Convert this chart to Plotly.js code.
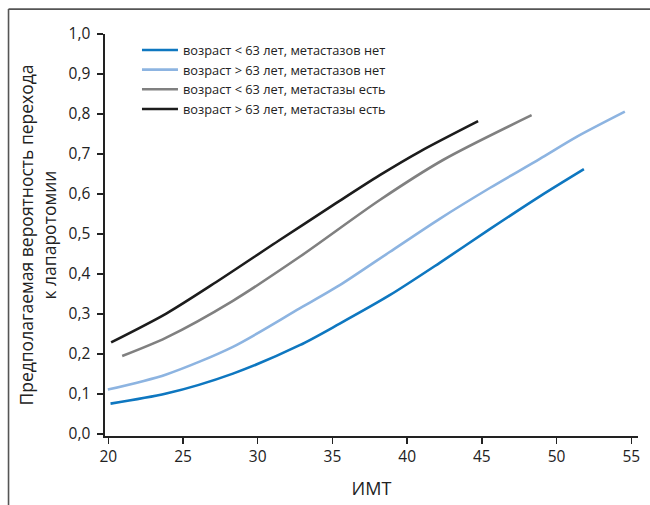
<!DOCTYPE html>
<html>
<head>
<meta charset="utf-8">
<script src="https://cdn.plot.ly/plotly-3.0.1.min.js"></script>
<style>html,body{margin:0;padding:0;background:#fff;}#chart{width:650px;height:505px;}</style>
</head>
<body>
<div id="chart"></div>
<script>
// Series names
const seriesNames = [
  "возраст < 63 лет, метастазов нет",
  "возраст > 63 лет, метастазов нет",
  "возраст < 63 лет, метастазы есть",
  "возраст > 63 лет, метастазы есть"
];
// BMI values (x) and predicted probability (y)
const xYoungNoMet = [20.15, 23.88, 28.34, 32.81, 35.49, 38.83, 42.18, 45.53, 48.88, 51.83];
const yYoungNoMet = [0.076, 0.101, 0.151, 0.222, 0.276, 0.347, 0.428, 0.512, 0.594, 0.662];

const xOldNoMet = [19.97, 23.88, 28.34, 32.81, 35.49, 38.83, 42.18, 45.53, 48.88, 51.34, 54.57];
const yOldNoMet = [0.111, 0.149, 0.218, 0.314, 0.372, 0.455, 0.538, 0.615, 0.688, 0.743, 0.806];

const xYoungMet = [20.93, 23.88, 28.34, 32.81, 38.17, 42.40, 48.33];
const yYoungMet = [0.195, 0.241, 0.333, 0.443, 0.585, 0.685, 0.797];

const xOldMet = [20.19, 23.88, 27.23, 31.47, 35.04, 38.17, 40.85, 44.75];
const yOldMet = [0.229, 0.301, 0.380, 0.485, 0.572, 0.647, 0.706, 0.782];

// Tick labels
const xTickVals = [20, 25, 30, 35, 40, 45, 50, 55];
const xTickText = ["20", "25", "30", "35", "40", "45", "50", "55"];
const yTickVals = [0, 0.1, 0.2, 0.3, 0.4, 0.5, 0.6, 0.7, 0.8, 0.9, 1.0];
const yTickText = ["0,0", "0,1", "0,2", "0,3", "0,4", "0,5", "0,6", "0,7", "0,8", "0,9", "1,0"];

const xTitle = "ИМТ";
const yTitle = "Предполагаемая вероятность перехода<br>к лапаротомии";

const colors = ["#0e77c0", "#8db4e1", "#808080", "#1c1c1c"];
const xs = [xYoungNoMet, xOldNoMet, xYoungMet, xOldMet];
const ys = [yYoungNoMet, yOldNoMet, yYoungMet, yOldMet];

const FONT = "Open Sans, Noto Sans, sans-serif";

const traces = seriesNames.map((n, i) => ({
  type: "scatter",
  mode: "lines",
  name: n,
  x: xs[i],
  y: ys[i],
  line: {color: colors[i], width: 2.6, shape: "spline", smoothing: 0.8}
}));

const layout = {
  width: 650,
  height: 505,
  margin: {l: 105, r: 12, t: 34, b: 69},
  paper_bgcolor: "#ffffff",
  plot_bgcolor: "#ffffff",
  font: {family: FONT, color: "#222222", size: 15},
  showlegend: true,
  legend: {
    x: 0.06, y: 0.997, xanchor: "left", yanchor: "top",
    bgcolor: "rgba(0,0,0,0)",
    font: {family: FONT, size: 12.8, color: "#222222"},
    tracegroupgap: 0,
    itemwidth: 36
  },
  xaxis: {
    range: [19.78, 55.45],
    tickvals: xTickVals, ticktext: xTickText,
    showgrid: false, zeroline: false,
    showline: true, linecolor: "#222222", linewidth: 1.6,
    ticks: "outside", ticklen: 6, tickwidth: 1.3, tickcolor: "#222222",
    tickfont: {family: FONT, size: 15.5, color: "#222222"},
    title: {text: xTitle, font: {family: FONT, size: 18, color: "#222222"}, standoff: 16}
  },
  yaxis: {
    range: [-0.005, 1.0],
    tickvals: yTickVals, ticktext: yTickText,
    showgrid: false, zeroline: false,
    showline: true, linecolor: "#222222", linewidth: 1.6,
    ticks: "outside", ticklen: 6, tickwidth: 1.3, tickcolor: "#222222",
    ticklabelstandoff: 4,
    tickfont: {family: FONT, size: 15.5, color: "#222222"},
    title: {text: yTitle, font: {family: FONT, size: 17.5, color: "#222222"}, standoff: 7}
  },
  shapes: [
    {type: "line", xref: "paper", yref: "paper", x0: -0.181, x1: 1.03, y0: 1.062, y1: 1.062,
     line: {color: "#555555", width: 1.6}},
    {type: "line", xref: "paper", yref: "paper", x0: -0.181, x1: -0.181, y0: 1.062, y1: -0.2,
     line: {color: "#555555", width: 1.6}}
  ]
};

Plotly.newPlot("chart", traces, layout, {displayModeBar: false, staticPlot: true});
</script>
</body>
</html>
